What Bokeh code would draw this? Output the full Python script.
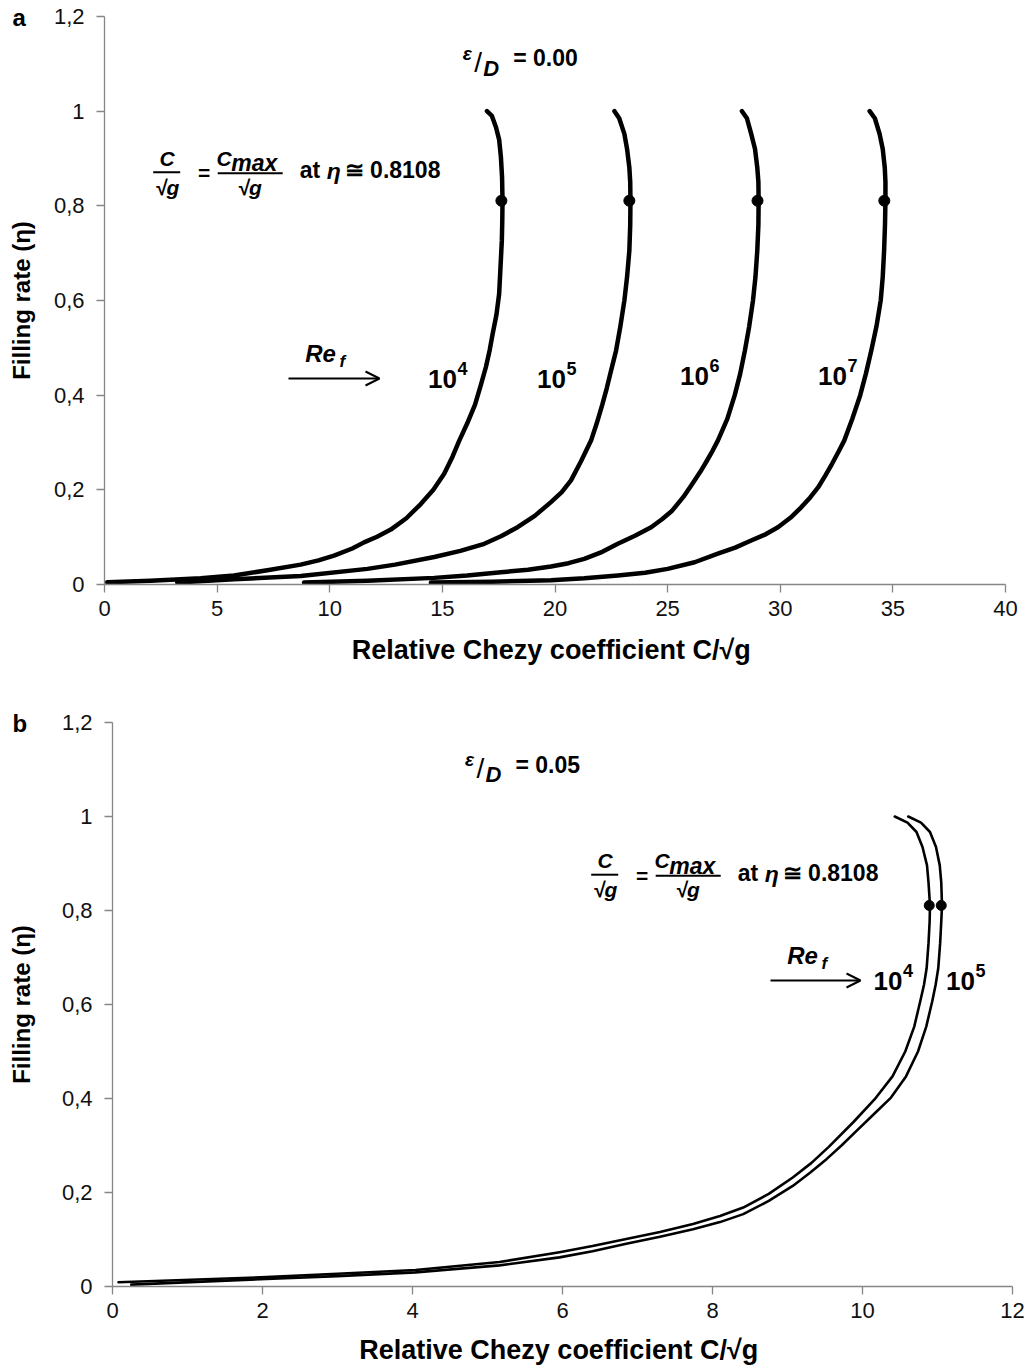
from bokeh.plotting import figure
from bokeh.models import Range1d, FixedTicker, CustomJSTickFormatter, Label, Arrow, OpenHead, Title
from bokeh.embed import file_html
from bokeh.resources import INLINE

# ---------------- data: panel a (eps/D = 0.00) ----------------
a_c_re4 = [0.12, 2.04, 4.27, 5.75, 7.23, 8.71, 9.50, 10.19, 11.00, 11.52, 12.10, 12.71, 13.40, 14.04, 14.60, 15.08, 15.45, 15.75,
           16.10, 16.45, 16.70, 16.93, 17.10, 17.23, 17.40, 17.52, 17.58, 17.64, 17.66, 17.67, 17.65, 17.60, 17.52, 17.38, 17.20, 16.98]
a_eta_re4 = [0.005, 0.008, 0.013, 0.019, 0.030, 0.042, 0.051, 0.061, 0.076, 0.089, 0.101, 0.116, 0.140, 0.170, 0.200, 0.234, 0.270, 0.304,
             0.340, 0.380, 0.420, 0.459, 0.495, 0.529, 0.570, 0.614, 0.670, 0.727, 0.770, 0.811, 0.860, 0.902, 0.940, 0.966, 0.990, 1.000]

a_c_re5 = [3.23, 5.75, 8.71, 11.67, 12.90, 14.64, 15.80, 16.86, 17.60, 18.34, 19.10, 19.82, 20.30, 20.71, 21.15, 21.60, 21.85, 22.10,
           22.30, 22.49, 22.60, 22.71, 22.90, 23.08, 23.20, 23.30, 23.34, 23.35, 23.34, 23.30, 23.20, 23.08, 22.85, 22.64]
a_eta_re5 = [0.004, 0.011, 0.018, 0.033, 0.042, 0.058, 0.071, 0.086, 0.102, 0.121, 0.145, 0.174, 0.195, 0.220, 0.260, 0.304, 0.340, 0.380,
             0.415, 0.452, 0.473, 0.494, 0.545, 0.600, 0.650, 0.705, 0.760, 0.811, 0.850, 0.881, 0.920, 0.952, 0.985, 1.000]

a_c_re6 = [8.86, 11.67, 14.64, 16.10, 17.60, 18.80, 19.82, 20.60, 21.30, 22.10, 22.79, 23.55, 24.27, 24.75, 25.20, 25.70, 26.10, 26.45,
           26.75, 27.00, 27.23, 27.65, 27.98, 28.22, 28.43, 28.62, 28.79, 28.90, 28.98, 29.03, 29.04, 29.03, 28.98, 28.88, 28.71, 28.52, 28.30]
a_eta_re6 = [0.004, 0.008, 0.014, 0.019, 0.026, 0.031, 0.038, 0.045, 0.054, 0.069, 0.086, 0.103, 0.121, 0.138, 0.156, 0.185, 0.213, 0.238,
             0.262, 0.283, 0.304, 0.350, 0.400, 0.445, 0.494, 0.545, 0.600, 0.650, 0.705, 0.760, 0.811, 0.850, 0.881, 0.920, 0.952, 0.985, 1.000]

a_c_re7 = [14.49, 17.20, 19.82, 21.30, 22.79, 24.00, 25.00, 26.20, 27.23, 28.00, 28.71, 29.35, 29.90, 30.45, 30.93, 31.33, 31.68, 32.00,
           32.30, 32.58, 32.84, 33.20, 33.55, 33.80, 34.04, 34.27, 34.46, 34.55, 34.61, 34.65, 34.67, 34.67, 34.64, 34.55, 34.41, 34.20, 33.97]
a_eta_re7 = [0.004, 0.006, 0.009, 0.013, 0.019, 0.025, 0.033, 0.047, 0.065, 0.078, 0.093, 0.106, 0.121, 0.141, 0.163, 0.184, 0.205, 0.230,
             0.255, 0.280, 0.304, 0.350, 0.400, 0.445, 0.494, 0.545, 0.600, 0.650, 0.705, 0.760, 0.811, 0.850, 0.881, 0.920, 0.952, 0.985, 1.000]

a_cmax = [17.62, 23.30, 28.99, 34.62]
a_re_labels = ["4", "5", "6", "7"]

# ---------------- data: panel b (eps/D = 0.05) ----------------
b_c_re4 = [0.08, 2.05, 3.00, 4.04, 5.16, 5.96, 6.40, 6.85, 7.30, 7.74, 8.10, 8.41, 8.75, 9.07, 9.32, 9.55, 9.88, 10.16,
           10.40, 10.57, 10.69, 10.77, 10.82, 10.855, 10.88, 10.895, 10.90, 10.88, 10.86, 10.80, 10.72, 10.60, 10.43]
b_eta_re4 = [0.009, 0.020, 0.027, 0.035, 0.052, 0.073, 0.086, 0.101, 0.116, 0.133, 0.150, 0.168, 0.197, 0.232, 0.263, 0.297, 0.350, 0.398,
             0.447, 0.500, 0.553, 0.607, 0.642, 0.677, 0.730, 0.776, 0.811, 0.860, 0.896, 0.935, 0.967, 0.987, 1.000]

b_c_re5 = [0.25, 2.05, 3.00, 4.04, 5.16, 5.96, 6.40, 6.85, 7.30, 7.74, 8.10, 8.41, 8.75, 9.07, 9.30, 9.52, 9.72, 9.92, 10.14, 10.38,
           10.58, 10.74, 10.85, 10.93, 10.975, 11.01, 11.035, 11.05, 11.06, 11.05, 11.03, 10.98, 10.90, 10.78, 10.61]
b_eta_re5 = [0.004, 0.016, 0.022, 0.030, 0.045, 0.062, 0.075, 0.091, 0.106, 0.122, 0.137, 0.154, 0.182, 0.214, 0.242, 0.271, 0.300, 0.331, 0.365, 0.402,
             0.447, 0.500, 0.553, 0.607, 0.642, 0.677, 0.730, 0.776, 0.811, 0.860, 0.896, 0.935, 0.967, 0.987, 1.000]

b_cmax = [10.89, 11.05]
b_re_labels = ["4", "5"]

eta_max = 0.8108
y_ticks = [0, 0.2, 0.4, 0.6, 0.8, 1.0, 1.2]

FONT = "Liberation Sans"
AXIS_GREY = "#868686"


def make_fig(frame_w, frame_h, xmax, xstep, bl, br, bt, bb, ylab_sd, xlab_sd, letter, letter_offset):
    title = Title(text=letter, align="left", offset=letter_offset, standoff=-28,
                  vertical_align="bottom", text_font=FONT, text_font_size="24px",
                  text_font_style="bold", text_color="black")
    p = figure(frame_width=frame_w, frame_height=frame_h,
               x_range=Range1d(0, xmax), y_range=Range1d(0, 1.2),
               output_backend="svg", toolbar_location=None, title=title,
               min_border_left=bl, min_border_right=br,
               min_border_top=bt, min_border_bottom=bb)
    p.outline_line_color = None
    p.xgrid.grid_line_color = None
    p.ygrid.grid_line_color = None
    p.background_fill_color = "white"
    p.border_fill_color = "white"
    p.xaxis.ticker = FixedTicker(ticks=list(range(0, xmax + 1, xstep)))
    p.yaxis.ticker = FixedTicker(ticks=y_ticks)
    p.yaxis.formatter = CustomJSTickFormatter(code="""
        const v = Math.round(tick * 10) / 10;
        if (v == 0) return "0";
        if (v == 1) return "1";
        return v.toFixed(1).replace(".", ",");
    """)
    for ax in p.axis:
        ax.axis_line_color = AXIS_GREY
        ax.axis_line_width = 1.3
        ax.major_tick_line_color = AXIS_GREY
        ax.major_tick_line_width = 1.3
        ax.major_tick_out = 8
        ax.major_tick_in = 0
        ax.minor_tick_line_color = None
        ax.major_label_text_font = FONT
        ax.major_label_text_font_size = "22px"
        ax.major_label_text_color = "#111111"
        ax.axis_label_text_font = FONT
        ax.axis_label_text_font_style = "bold"
        ax.axis_label_text_color = "black"
    p.yaxis.axis_label_text_font_size = "24px"
    p.xaxis.axis_label_text_font_size = "27px"
    p.yaxis.major_label_standoff = 12
    p.xaxis.major_label_standoff = 8
    p.yaxis.axis_label_standoff = ylab_sd
    p.xaxis.axis_label_standoff = xlab_sd
    p.yaxis.axis_label = "Filling rate (\u03b7)"
    p.xaxis.axis_label = "Relative Chezy coefficient  C/\u221ag"
    return p


def converter(left, bottom, sx, sy):
    return lambda px, py: ((px - left) / sx, (bottom - py) / sy)


def txt(p, conv, px, py, s, size, style="bold", align="center", baseline="middle"):
    x, y = conv(px, py)
    p.add_layout(Label(x=x, y=y, text=s, text_font=FONT, text_font_size=f"{size}px",
                       text_font_style=style, text_align=align, text_baseline=baseline,
                       text_color="black"))


def fraction_formula(p, conv, ox, oy):
    # ox, oy: page position of left end of first fraction bar
    txt(p, conv, ox + 14, oy - 14, "C", 21, "bold italic")
    txt(p, conv, ox + 14, oy + 15, "\u221ag", 21, "bold italic")
    txt(p, conv, ox + 51, oy + 0.5, "=", 21, "bold")
    txt(p, conv, ox + 71, oy - 14, "C", 21, "bold italic")
    txt(p, conv, ox + 78, oy - 9, "max", 23, "bold italic", align="left")
    txt(p, conv, ox + 96.5, oy + 15, "\u221ag", 21, "bold italic")
    txt(p, conv, ox + 146.5, oy - 2, "at", 23, "bold", align="left")
    txt(p, conv, ox + 173.5, oy - 1, "\u03b7", 23, "bold italic", align="left")
    txt(p, conv, ox + 191.5, oy - 2, "\u2245 0.8108", 23, "bold", align="left")
    x0, y0 = conv(ox, oy)
    x1, _ = conv(ox + 27, oy)
    x2, y2 = conv(ox + 64.5, oy + 1)
    x3, _ = conv(ox + 129.5, oy + 1)
    p.segment(x0=[x0, x2], y0=[y0, y2], x1=[x1, x3], y1=[y0, y2], line_width=2, color="black")


def eps_label(p, conv, ox, oy, val):
    txt(p, conv, ox, oy, "\u03b5", 19, "bold italic")
    txt(p, conv, ox + 11, oy + 9, "/", 28, "normal")
    txt(p, conv, ox + 24, oy + 15, "D", 22, "bold italic")
    txt(p, conv, ox + 46, oy + 5, "= " + val, 23, "bold", align="left")


def ref_arrow(p, conv, ox, oy, length):
    xs, ys = conv(ox, oy)
    xe, ye = conv(ox + length, oy)
    p.add_layout(Arrow(end=OpenHead(size=14, line_width=2, line_color="black"),
                       x_start=xs, y_start=ys, x_end=xe, y_end=ye,
                       line_width=2, line_color="black"))
    txt(p, conv, ox + 32, oy - 25, "Re", 24, "bold italic")
    txt(p, conv, ox + 51, oy - 17, "f", 17, "bold italic", align="left")


def pow_label(p, conv, cx, cy, exp):
    txt(p, conv, cx, cy, "10", 26, "bold")
    txt(p, conv, cx + 15, cy - 10, exp, 18, "bold", align="left")


# ---------------- panel a ----------------
p1 = make_fig(901, 568, 40, 5, 104, 20, 16, 85, 16, 16, "a", -92)
convA = converter(104, 584, 901 / 40, 568 / 1.2)
for xs, ys in [(a_c_re4, a_eta_re4), (a_c_re5, a_eta_re5), (a_c_re6, a_eta_re6), (a_c_re7, a_eta_re7)]:
    p1.line(xs, ys, line_width=4.5, color="black", line_join="round", line_cap="round")
p1.scatter(a_cmax, [eta_max] * len(a_cmax), size=11, color="black")

eps_label(p1, convA, 466.7, 52.5, "0.00")
fraction_formula(p1, convA, 152.7, 171.7)
ref_arrow(p1, convA, 288, 378, 91)
for (cx, cy), e in zip([(442, 378), (551, 378), (694, 375), (832, 375)], a_re_labels):
    pow_label(p1, convA, cx, cy, e)

# ---------------- panel b ----------------
p2 = make_fig(900, 564, 12, 2, 112, 13, 53, 82, 24, 14, "b", -100)
convB = converter(112, 1286, 900 / 12, 564 / 1.2)
for xs, ys in [(b_c_re4, b_eta_re4), (b_c_re5, b_eta_re5)]:
    p2.line(xs, ys, line_width=2.6, color="black", line_join="round", line_cap="round")
p2.scatter(b_cmax, [eta_max] * len(b_cmax), size=10, color="black")

eps_label(p2, convB, 469, 759, "0.05")
fraction_formula(p2, convB, 590.7, 874.2)
ref_arrow(p2, convB, 770, 980, 90)
for (cx, cy), e in zip([(887.5, 980), (960, 980)], b_re_labels):
    pow_label(p2, convB, cx, cy, e)

open("out.html", "w").write(file_html([p1, p2], INLINE))
